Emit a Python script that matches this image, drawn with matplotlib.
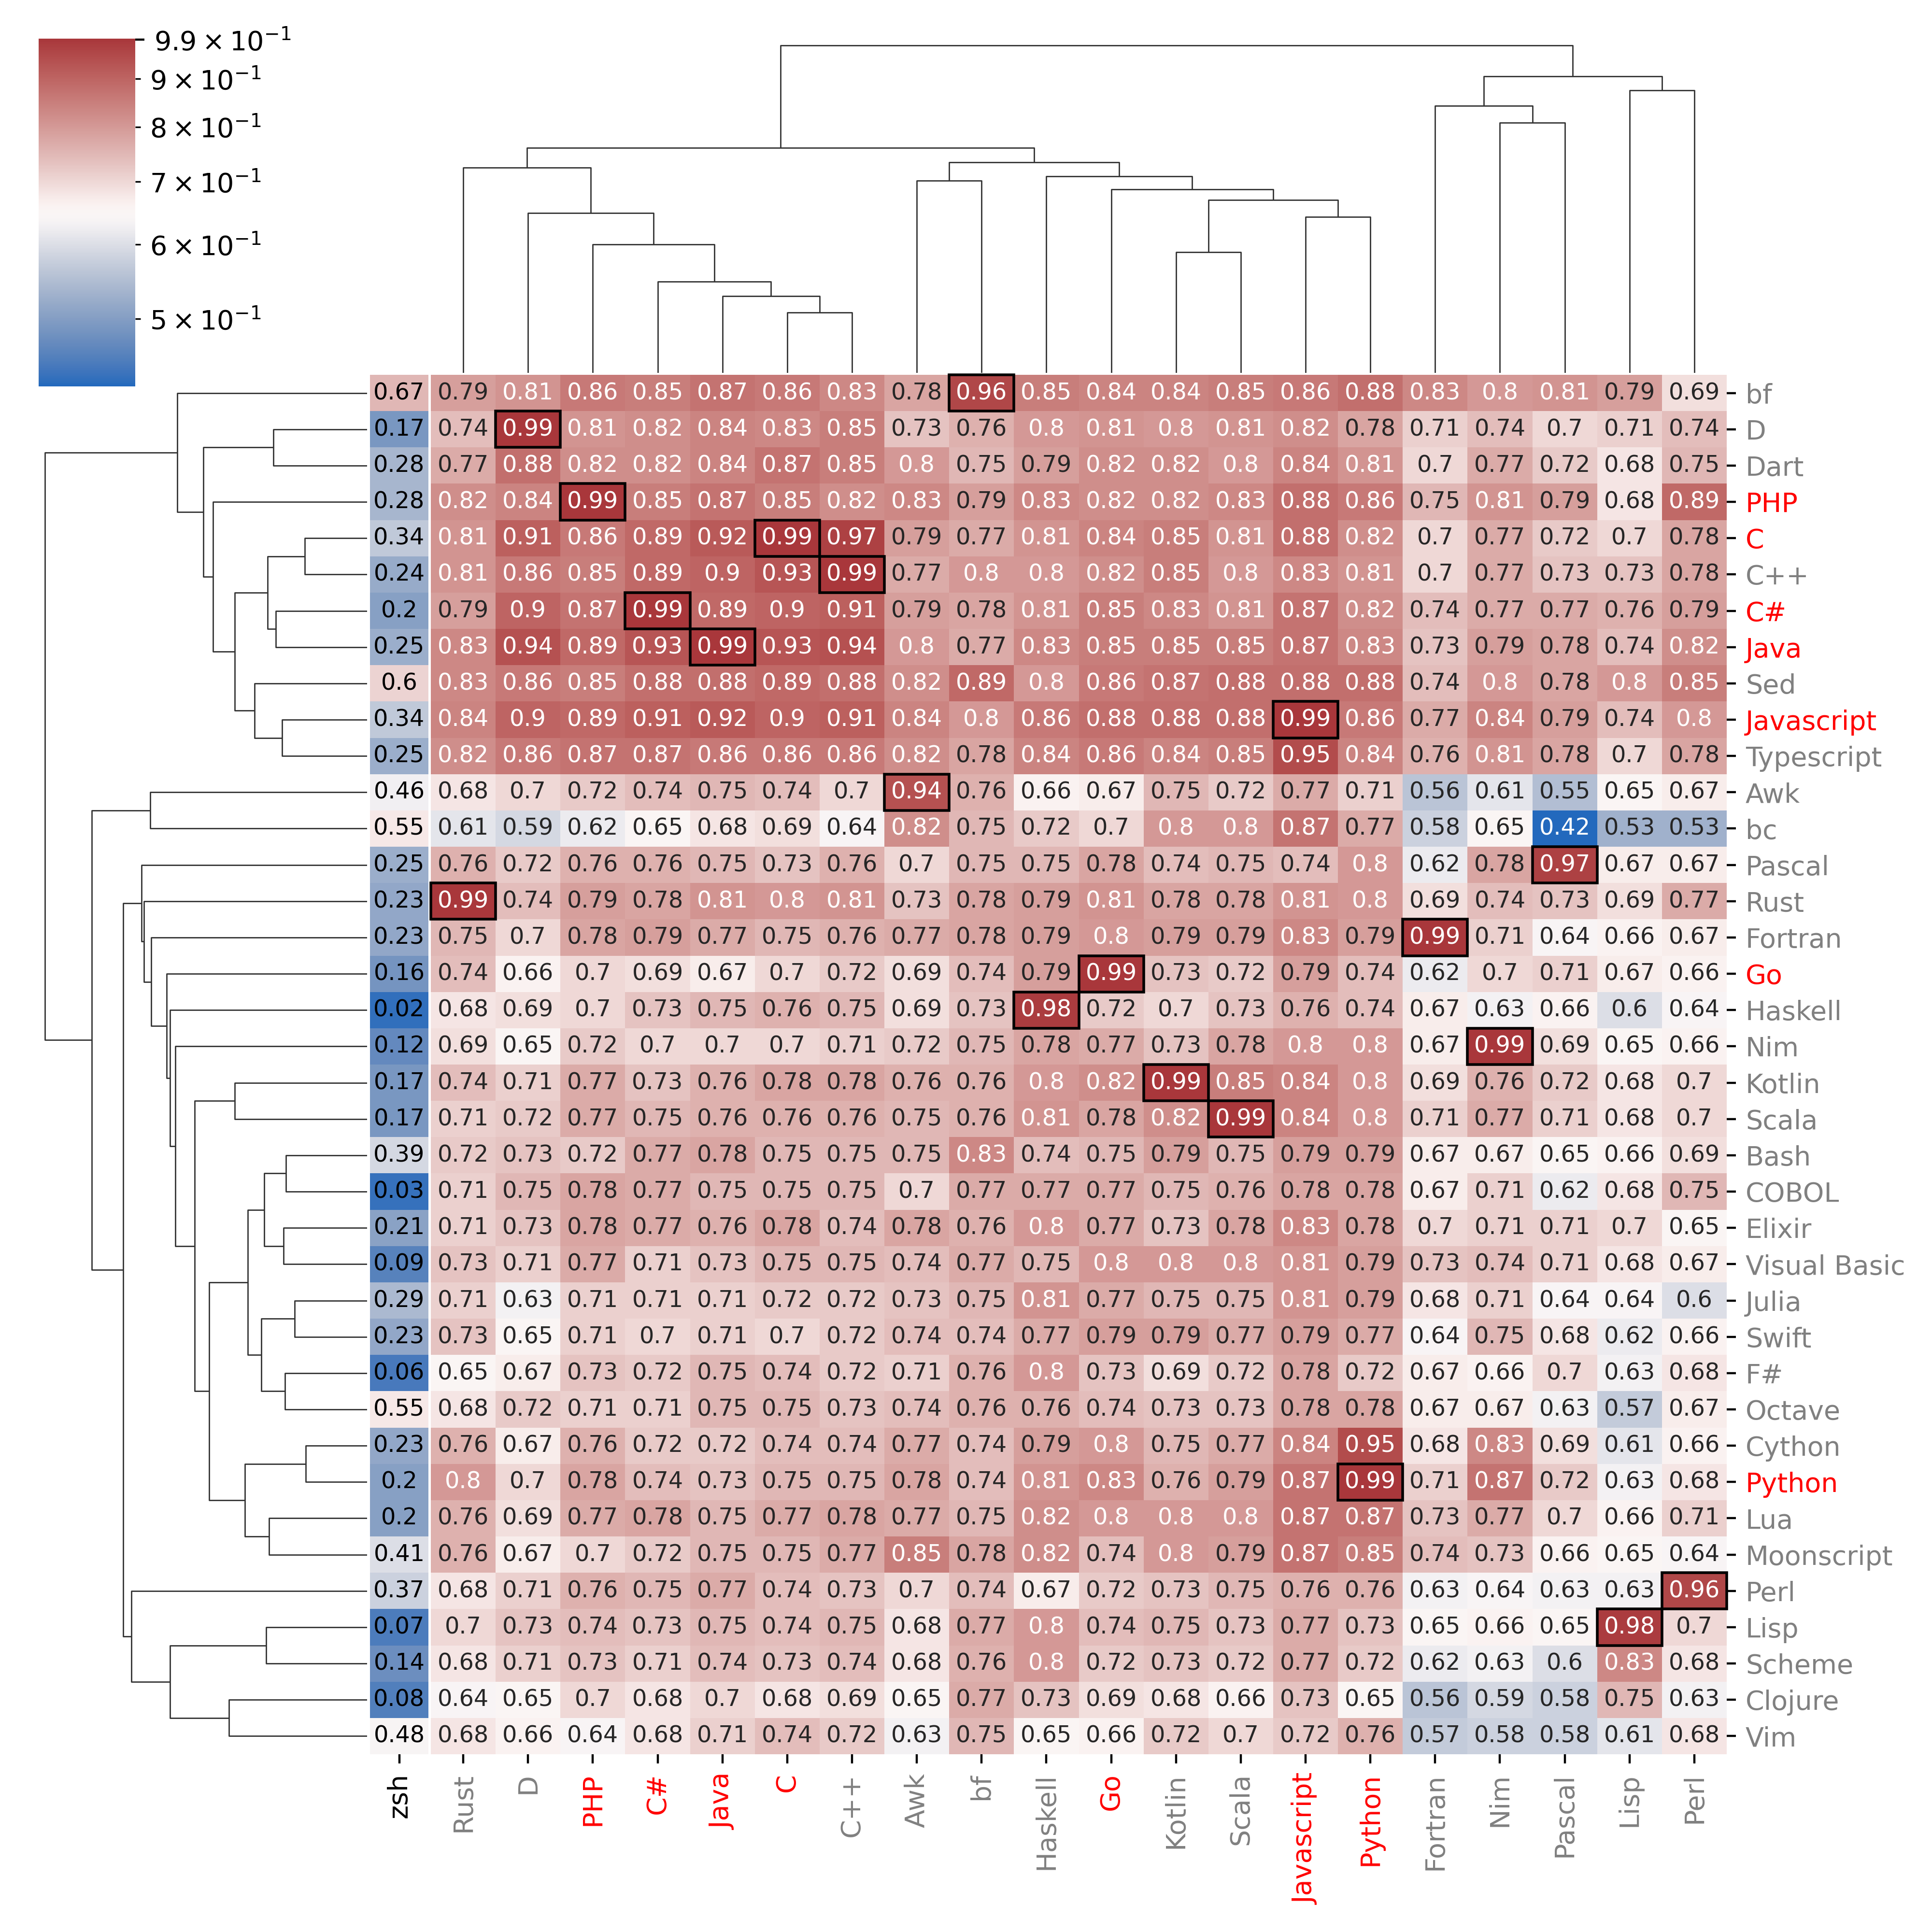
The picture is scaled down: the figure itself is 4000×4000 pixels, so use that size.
import numpy as np
import matplotlib
matplotlib.use("Agg")
import matplotlib.pyplot as plt
import matplotlib.ticker as mticker
import seaborn as sns
from matplotlib.collections import LineCollection
from matplotlib.colors import LogNorm, Normalize, to_rgba_array
from matplotlib.patches import Rectangle

# row / column order as left by the clustering
row_labels = ["bf", "D", "Dart", "PHP", "C", "C++", "C#", "Java", "Sed", "Javascript",
              "Typescript", "Awk", "bc", "Pascal", "Rust", "Fortran", "Go", "Haskell",
              "Nim", "Kotlin", "Scala", "Bash", "COBOL", "Elixir", "Visual Basic", "Julia",
              "Swift", "F#", "Octave", "Cython", "Python", "Lua", "Moonscript", "Perl",
              "Lisp", "Scheme", "Clojure", "Vim"]
col_labels = ["Rust", "D", "PHP", "C#", "Java", "C", "C++", "Awk", "bf", "Haskell", "Go",
              "Kotlin", "Scala", "Javascript", "Python", "Fortran", "Nim", "Pascal", "Lisp", "Perl"]
red_labels = ["PHP", "C", "C#", "Java", "Javascript", "Go", "Python"]

# extra column shown next to the heatmap
zsh_values = [0.67, 0.17, 0.28, 0.28, 0.34, 0.24, 0.2, 0.25, 0.6, 0.34, 0.25, 0.46, 0.55,
              0.25, 0.23, 0.23, 0.16, 0.02, 0.12, 0.17, 0.17, 0.39, 0.03, 0.21, 0.09, 0.29,
              0.23, 0.06, 0.55, 0.23, 0.2, 0.2, 0.41, 0.37, 0.07, 0.14, 0.08, 0.48]

# similarity values, one list per row (columns as in col_labels)
similarity = [
    [0.79, 0.81, 0.86, 0.85, 0.87, 0.86, 0.83, 0.78, 0.96, 0.85, 0.84, 0.84, 0.85, 0.86, 0.88, 0.83, 0.8, 0.81, 0.79, 0.69],
    [0.74, 0.99, 0.81, 0.82, 0.84, 0.83, 0.85, 0.73, 0.76, 0.8, 0.81, 0.8, 0.81, 0.82, 0.78, 0.71, 0.74, 0.7, 0.71, 0.74],
    [0.77, 0.88, 0.82, 0.82, 0.84, 0.87, 0.85, 0.8, 0.75, 0.79, 0.82, 0.82, 0.8, 0.84, 0.81, 0.7, 0.77, 0.72, 0.68, 0.75],
    [0.82, 0.84, 0.99, 0.85, 0.87, 0.85, 0.82, 0.83, 0.79, 0.83, 0.82, 0.82, 0.83, 0.88, 0.86, 0.75, 0.81, 0.79, 0.68, 0.89],
    [0.81, 0.91, 0.86, 0.89, 0.92, 0.99, 0.97, 0.79, 0.77, 0.81, 0.84, 0.85, 0.81, 0.88, 0.82, 0.7, 0.77, 0.72, 0.7, 0.78],
    [0.81, 0.86, 0.85, 0.89, 0.9, 0.93, 0.99, 0.77, 0.8, 0.8, 0.82, 0.85, 0.8, 0.83, 0.81, 0.7, 0.77, 0.73, 0.73, 0.78],
    [0.79, 0.9, 0.87, 0.99, 0.89, 0.9, 0.91, 0.79, 0.78, 0.81, 0.85, 0.83, 0.81, 0.87, 0.82, 0.74, 0.77, 0.77, 0.76, 0.79],
    [0.83, 0.94, 0.89, 0.93, 0.99, 0.93, 0.94, 0.8, 0.77, 0.83, 0.85, 0.85, 0.85, 0.87, 0.83, 0.73, 0.79, 0.78, 0.74, 0.82],
    [0.83, 0.86, 0.85, 0.88, 0.88, 0.89, 0.88, 0.82, 0.89, 0.8, 0.86, 0.87, 0.88, 0.88, 0.88, 0.74, 0.8, 0.78, 0.8, 0.85],
    [0.84, 0.9, 0.89, 0.91, 0.92, 0.9, 0.91, 0.84, 0.8, 0.86, 0.88, 0.88, 0.88, 0.99, 0.86, 0.77, 0.84, 0.79, 0.74, 0.8],
    [0.82, 0.86, 0.87, 0.87, 0.86, 0.86, 0.86, 0.82, 0.78, 0.84, 0.86, 0.84, 0.85, 0.95, 0.84, 0.76, 0.81, 0.78, 0.7, 0.78],
    [0.68, 0.7, 0.72, 0.74, 0.75, 0.74, 0.7, 0.94, 0.76, 0.66, 0.67, 0.75, 0.72, 0.77, 0.71, 0.56, 0.61, 0.55, 0.65, 0.67],
    [0.61, 0.59, 0.62, 0.65, 0.68, 0.69, 0.64, 0.82, 0.75, 0.72, 0.7, 0.8, 0.8, 0.87, 0.77, 0.58, 0.65, 0.42, 0.53, 0.53],
    [0.76, 0.72, 0.76, 0.76, 0.75, 0.73, 0.76, 0.7, 0.75, 0.75, 0.78, 0.74, 0.75, 0.74, 0.8, 0.62, 0.78, 0.97, 0.67, 0.67],
    [0.99, 0.74, 0.79, 0.78, 0.81, 0.8, 0.81, 0.73, 0.78, 0.79, 0.81, 0.78, 0.78, 0.81, 0.8, 0.69, 0.74, 0.73, 0.69, 0.77],
    [0.75, 0.7, 0.78, 0.79, 0.77, 0.75, 0.76, 0.77, 0.78, 0.79, 0.8, 0.79, 0.79, 0.83, 0.79, 0.99, 0.71, 0.64, 0.66, 0.67],
    [0.74, 0.66, 0.7, 0.69, 0.67, 0.7, 0.72, 0.69, 0.74, 0.79, 0.99, 0.73, 0.72, 0.79, 0.74, 0.62, 0.7, 0.71, 0.67, 0.66],
    [0.68, 0.69, 0.7, 0.73, 0.75, 0.76, 0.75, 0.69, 0.73, 0.98, 0.72, 0.7, 0.73, 0.76, 0.74, 0.67, 0.63, 0.66, 0.6, 0.64],
    [0.69, 0.65, 0.72, 0.7, 0.7, 0.7, 0.71, 0.72, 0.75, 0.78, 0.77, 0.73, 0.78, 0.8, 0.8, 0.67, 0.99, 0.69, 0.65, 0.66],
    [0.74, 0.71, 0.77, 0.73, 0.76, 0.78, 0.78, 0.76, 0.76, 0.8, 0.82, 0.99, 0.85, 0.84, 0.8, 0.69, 0.76, 0.72, 0.68, 0.7],
    [0.71, 0.72, 0.77, 0.75, 0.76, 0.76, 0.76, 0.75, 0.76, 0.81, 0.78, 0.82, 0.99, 0.84, 0.8, 0.71, 0.77, 0.71, 0.68, 0.7],
    [0.72, 0.73, 0.72, 0.77, 0.78, 0.75, 0.75, 0.75, 0.83, 0.74, 0.75, 0.79, 0.75, 0.79, 0.79, 0.67, 0.67, 0.65, 0.66, 0.69],
    [0.71, 0.75, 0.78, 0.77, 0.75, 0.75, 0.75, 0.7, 0.77, 0.77, 0.77, 0.75, 0.76, 0.78, 0.78, 0.67, 0.71, 0.62, 0.68, 0.75],
    [0.71, 0.73, 0.78, 0.77, 0.76, 0.78, 0.74, 0.78, 0.76, 0.8, 0.77, 0.73, 0.78, 0.83, 0.78, 0.7, 0.71, 0.71, 0.7, 0.65],
    [0.73, 0.71, 0.77, 0.71, 0.73, 0.75, 0.75, 0.74, 0.77, 0.75, 0.8, 0.8, 0.8, 0.81, 0.79, 0.73, 0.74, 0.71, 0.68, 0.67],
    [0.71, 0.63, 0.71, 0.71, 0.71, 0.72, 0.72, 0.73, 0.75, 0.81, 0.77, 0.75, 0.75, 0.81, 0.79, 0.68, 0.71, 0.64, 0.64, 0.6],
    [0.73, 0.65, 0.71, 0.7, 0.71, 0.7, 0.72, 0.74, 0.74, 0.77, 0.79, 0.79, 0.77, 0.79, 0.77, 0.64, 0.75, 0.68, 0.62, 0.66],
    [0.65, 0.67, 0.73, 0.72, 0.75, 0.74, 0.72, 0.71, 0.76, 0.8, 0.73, 0.69, 0.72, 0.78, 0.72, 0.67, 0.66, 0.7, 0.63, 0.68],
    [0.68, 0.72, 0.71, 0.71, 0.75, 0.75, 0.73, 0.74, 0.76, 0.76, 0.74, 0.73, 0.73, 0.78, 0.78, 0.67, 0.67, 0.63, 0.57, 0.67],
    [0.76, 0.67, 0.76, 0.72, 0.72, 0.74, 0.74, 0.77, 0.74, 0.79, 0.8, 0.75, 0.77, 0.84, 0.95, 0.68, 0.83, 0.69, 0.61, 0.66],
    [0.8, 0.7, 0.78, 0.74, 0.73, 0.75, 0.75, 0.78, 0.74, 0.81, 0.83, 0.76, 0.79, 0.87, 0.99, 0.71, 0.87, 0.72, 0.63, 0.68],
    [0.76, 0.69, 0.77, 0.78, 0.75, 0.77, 0.78, 0.77, 0.75, 0.82, 0.8, 0.8, 0.8, 0.87, 0.87, 0.73, 0.77, 0.7, 0.66, 0.71],
    [0.76, 0.67, 0.7, 0.72, 0.75, 0.75, 0.77, 0.85, 0.78, 0.82, 0.74, 0.8, 0.79, 0.87, 0.85, 0.74, 0.73, 0.66, 0.65, 0.64],
    [0.68, 0.71, 0.76, 0.75, 0.77, 0.74, 0.73, 0.7, 0.74, 0.67, 0.72, 0.73, 0.75, 0.76, 0.76, 0.63, 0.64, 0.63, 0.63, 0.96],
    [0.7, 0.73, 0.74, 0.73, 0.75, 0.74, 0.75, 0.68, 0.77, 0.8, 0.74, 0.75, 0.73, 0.77, 0.73, 0.65, 0.66, 0.65, 0.98, 0.7],
    [0.68, 0.71, 0.73, 0.71, 0.74, 0.73, 0.74, 0.68, 0.76, 0.8, 0.72, 0.73, 0.72, 0.77, 0.72, 0.62, 0.63, 0.6, 0.83, 0.68],
    [0.64, 0.65, 0.7, 0.68, 0.7, 0.68, 0.69, 0.65, 0.77, 0.73, 0.69, 0.68, 0.66, 0.73, 0.65, 0.56, 0.59, 0.58, 0.75, 0.63],
    [0.68, 0.66, 0.64, 0.68, 0.71, 0.74, 0.72, 0.63, 0.75, 0.65, 0.66, 0.72, 0.7, 0.72, 0.76, 0.57, 0.58, 0.58, 0.61, 0.68],
]

# dendrograms as (merge height, left, right), heights relative to the root merge
col_tree = (1.0,
            (0.687,
             (0.627, "Rust",
              (0.488, "D",
               (0.393, "PHP",
                (0.279, "C#",
                 (0.234, "Java", (0.184, "C", "C++")))))),
             (0.643,
              (0.587, "Awk", "bf"),
              (0.600, "Haskell",
               (0.560, "Go",
                (0.528, (0.368, "Kotlin", "Scala"), (0.476, "Javascript", "Python")))))),
            (0.906,
             (0.816, "Fortran", (0.764, "Nim", "Pascal")),
             (0.863, "Lisp", "Perl")))

row_tree = (1.0,
            (0.589, "bf",
             (0.508,
              (0.291, "D", "Dart"),
              (0.479, "PHP",
               (0.411,
                (0.309, (0.194, "C", "C++"), (0.284, "C#", "Java")),
                (0.349, "Sed", (0.264, "Javascript", "Typescript")))))),
            (0.855,
             (0.674, "Awk", "bc"),
             (0.758,
              (0.700, "Pascal",
               (0.693, "Rust",
                (0.670, "Fortran",
                 (0.623, "Go",
                  (0.612, "Haskell",
                   (0.595, "Nim",
                    (0.536,
                     (0.411, "Kotlin", "Scala"),
                     (0.490,
                      (0.370,
                       (0.320, (0.252, "Bash", "COBOL"), (0.259, "Elixir", "Visual Basic")),
                       (0.329, (0.225, "Julia", "Swift"), (0.255, "F#", "Octave"))),
                      (0.379, (0.190, "Cython", "Python"), (0.304, "Lua", "Moonscript")))))))))),
              (0.732, "Perl",
               (0.612, (0.313, "Lisp", "Scheme"), (0.429, "Clojure", "Vim"))))))

VMIN, VMAX = 0.424, 0.9925
cbar_major = [0.99]
cbar_minor = [0.5, 0.6, 0.7, 0.8, 0.9]


def tree_segments(node, leaf_pos):
    # returns (position, height, list of U-shaped links)
    if isinstance(node, str):
        return leaf_pos[node], 0.0, []
    h, left, right = node
    xl, hl, sl = tree_segments(left, leaf_pos)
    xr, hr, sr = tree_segments(right, leaf_pos)
    link = [(xl, hl), (xl, h), (xr, h), (xr, hr)]
    return (xl + xr) / 2, h, sl + sr + [link]


def text_color(rgba):
    rgb = to_rgba_array(rgba)[:, :3]
    rgb = np.where(rgb <= .03928, rgb / 12.92, ((rgb + .055) / 1.055) ** 2.4)
    lum = rgb.dot([.2126, .7152, .0722])[0]
    return ".15" if lum > .408 else "w"


def label_color(name):
    return "red" if name in red_labels else "gray"


cmap = sns.color_palette("vlag", as_cmap=True)
data = np.array(similarity)
n_rows, n_cols = data.shape

fig = plt.figure(figsize=(10, 10), dpi=400)
W = 4000.0
ax_heat = fig.add_axes([892 / W, 1 - 3632 / W, 2683 / W, 2856 / W])
ax_zsh = fig.add_axes([766 / W, 1 - 3632 / W, 121 / W, 2856 / W])
ax_row = fig.add_axes([60 / W, 1 - 3632 / W, 700 / W, 2856 / W])
ax_col = fig.add_axes([892 / W, 1 - 772 / W, 2683 / W, 712 / W])
ax_cbar = fig.add_axes([0.02, 0.8, 0.05, 0.18])

# main heatmap
norm = LogNorm(vmin=VMIN, vmax=VMAX)
mesh = ax_heat.pcolormesh(data, cmap=cmap, norm=norm)
ax_heat.set_xlim(0, n_cols)
ax_heat.set_ylim(n_rows, 0)
for i in range(n_rows):
    for j in range(n_cols):
        v = data[i, j]
        ax_heat.text(j + 0.5, i + 0.5, f"{v:.2g}", ha="center", va="center",
                     fontsize=8.6, color=text_color(cmap(norm(v))))
for i, name in enumerate(row_labels):
    if name in col_labels:
        j = col_labels.index(name)
        ax_heat.add_patch(Rectangle((j, i), 1, 1, fill=False, edgecolor="black",
                                    lw=1, clip_on=False))
for s in ax_heat.spines.values():
    s.set_visible(False)
ax_heat.set_xticks(np.arange(n_cols) + 0.5)
ax_heat.set_xticklabels(col_labels, rotation=90, fontsize=10)
ax_heat.yaxis.tick_right()
ax_heat.set_yticks(np.arange(n_rows) + 0.5)
ax_heat.set_yticklabels(row_labels, rotation=0, fontsize=10)
for lab in ax_heat.get_xticklabels() + ax_heat.get_yticklabels():
    lab.set_color(label_color(lab.get_text()))

# zsh column
zsh = np.array(zsh_values).reshape(-1, 1)
ax_zsh.pcolormesh(zsh, cmap=cmap, norm=Normalize(0, 1))
ax_zsh.set_xlim(0, 1)
ax_zsh.set_ylim(n_rows, 0)
for i, v in enumerate(zsh_values):
    ax_zsh.text(0.5, i + 0.5, f"{v:.2g}", ha="center", va="center", fontsize=8.6, color="black")
for s in ax_zsh.spines.values():
    s.set_visible(False)
ax_zsh.set_xticks([0.5])
ax_zsh.set_xticklabels(["zsh"], rotation=90, fontsize=10)
ax_zsh.set_yticks([])

# column dendrogram
col_pos = {name: 10 * k + 5 for k, name in enumerate(col_labels)}
_, col_top, col_links = tree_segments(col_tree, col_pos)
ax_col.add_collection(LineCollection(col_links, linewidths=0.5, colors=(.2, .2, .2)))
ax_col.set_xlim(0, 10 * n_cols)
ax_col.set_ylim(0, col_top * 1.05)
ax_col.set_axis_off()

# row dendrogram
row_pos = {name: 10 * k + 5 for k, name in enumerate(row_labels)}
_, row_top, row_links = tree_segments(row_tree, row_pos)
row_links = [[(h, p) for p, h in link] for link in row_links]
ax_row.add_collection(LineCollection(row_links, linewidths=0.5, colors=(.2, .2, .2)))
ax_row.set_xlim(row_top * 1.05, 0)
ax_row.set_ylim(10 * n_rows, 0)
ax_row.set_axis_off()

# colorbar
cb = fig.colorbar(mesh, cax=ax_cbar)
cb.outline.set_linewidth(0)
ax_cbar.yaxis.set_major_locator(mticker.FixedLocator(cbar_major))
ax_cbar.yaxis.set_minor_locator(mticker.FixedLocator(cbar_minor))
fmt = lambda v: r"$\mathdefault{%g\times10^{-1}}$" % round(v * 10, 2)
ax_cbar.yaxis.set_major_formatter(mticker.FixedFormatter([fmt(v) for v in cbar_major]))
ax_cbar.yaxis.set_minor_formatter(mticker.FixedFormatter([fmt(v) for v in cbar_minor]))
ax_cbar.tick_params(which="both", labelsize=10)

fig.savefig("out.png", dpi=400)
